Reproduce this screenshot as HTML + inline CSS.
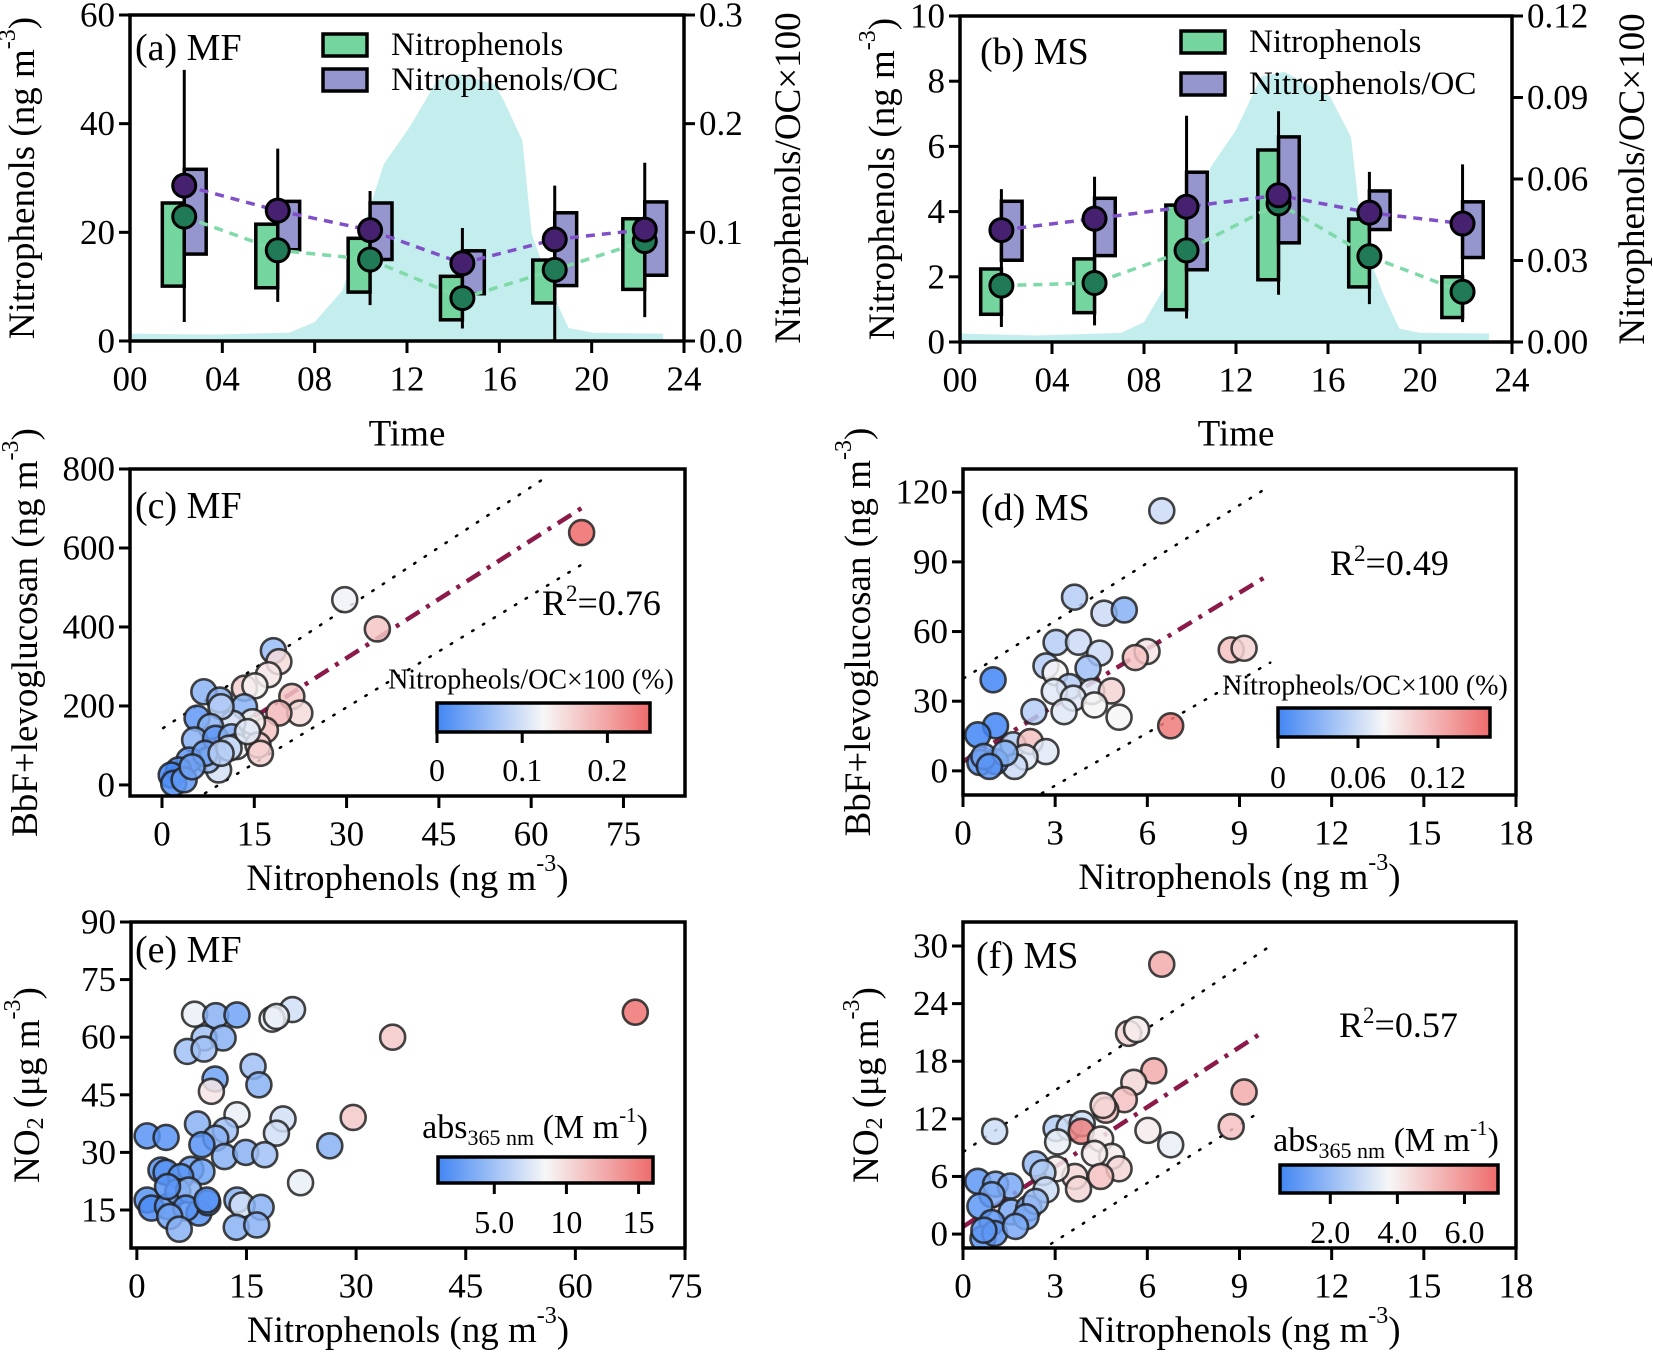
<!DOCTYPE html>
<html><head><meta charset="utf-8">
<style>
html,body{margin:0;padding:0;background:#fff;}
svg{display:block;font-family:"Liberation Serif","DejaVu Serif",serif;}
</style></head>
<body>
<svg id="fig" width="1653" height="1352" viewBox="0 0 1653 1352" xmlns="http://www.w3.org/2000/svg">
<defs>
<linearGradient id="gc" x1="0" x2="1" y1="0" y2="0"><stop offset="0" stop-color="#4286f4"/><stop offset="0.5" stop-color="#f7f7f7"/><stop offset="1" stop-color="#ee6b6b"/></linearGradient>
</defs>
</svg>
<script>
// ---------- Panel (a)/(b) data ----------
const hoursA = [2.35, 6.4, 10.4, 14.4, 18.4, 22.3];
const npBoxLowA = [10.1, 9.8, 9.0, 3.9, 7.0, 9.5];
const npBoxHighA = [25.4, 21.5, 18.9, 11.9, 14.9, 22.5];
const npMeanA = [22.9, 16.7, 15.0, 7.9, 13.1, 18.4];
const ratioBoxLowA = [0.080, 0.084, 0.075, 0.0435, 0.051, 0.0605];
const ratioBoxHighA = [0.158, 0.1285, 0.127, 0.083, 0.118, 0.128];
const ratioMeanA = [0.143, 0.120, 0.102, 0.0715, 0.0935, 0.1025];
const whiskLowA = [3.5, 7.2, 6.6, 2.3, 0, 4.4];
const whiskHighA = [49.9, 35.4, 27.6, 20.8, 28.6, 32.8];
const solarHoursA = [0, 3.5, 6.9, 8.0, 9.2, 10.3, 11.0, 12.1, 13.3, 14.2, 15.8, 16.2, 17.0, 17.4, 18.3, 19.0, 20.1, 23.1];
const solarValsA = [1.35, 1.17, 1.54, 3.5, 9.3, 23.4, 32.6, 39.3, 47.9, 49.1, 47.3, 44.2, 36.9, 19.8, 8.8, 2.4, 1.5, 1.35];

const hoursB = [1.8, 5.85, 9.85, 13.85, 17.8, 21.85];
const npBoxLowB = [0.85, 0.90, 0.99, 1.91, 1.69, 0.75];
const npBoxHighB = [2.24, 2.55, 4.2, 5.89, 3.77, 2.0];
const npMeanB = [1.73, 1.81, 2.81, 4.25, 2.63, 1.54];
const ratioBoxLowB = [0.0301, 0.0318, 0.0266, 0.0365, 0.0414, 0.0311];
const ratioBoxHighB = [0.0518, 0.0529, 0.0625, 0.0755, 0.0556, 0.0516];
const ratioMeanB = [0.0412, 0.0454, 0.0498, 0.054, 0.0476, 0.0436];
const whiskLowB = [0.46, 0.51, 0.72, 1.45, 1.16, 0.61];
const whiskHighB = [4.69, 5.07, 6.94, 7.08, 5.22, 5.45];
const solarHoursB = [0, 3.3, 7.0, 8.0, 9.0, 10.9, 12.0, 13.1, 14.1, 16.1, 17.0, 17.5, 18.4, 19.1, 20.0, 23.0];
const solarValsB = [0.26, 0.2, 0.28, 0.61, 1.79, 5.37, 6.5, 8.14, 8.29, 7.52, 6.29, 3.12, 1.48, 0.41, 0.28, 0.26];

// ---------- Panel (c) ----------
const cX = [68.2,29.7,35.0,18.1,19.0,17.3,13.4,15.1,6.8,9.4,13.4,21.1,22.4,19.0,16.8,14.7,11.5,9.6,5.7,7.9,5.3,8.7,11.3,12.1,15.6,16.0,9.2,7.4,4.4,7.0,2.7,1.5,1.9,3.6,4.9,10.9,9.6,13.9];
const cY = [639,469,395,340,312,279,245,251,236,215,198,224,182,182,139,160,156,198,169,148,114,118,122,97,101,80,38,63,63,80,38,25,4,13,46,93,80,135];
const cC = [0.25,0.12,0.17,0.06,0.15,0.14,0.16,0.13,0.05,0.05,0.05,0.17,0.15,0.18,0.17,0.13,0.10,0.08,0.02,0.05,0.05,0.02,0.05,0.12,0.16,0.16,0.10,0.06,0.02,0.03,0.01,0.0,0.01,0.02,0.03,0.09,0.08,0.11];
// ---------- Panel (d) ----------
const dX = [6.47,3.63,4.59,5.25,3.03,3.76,4.45,5.99,5.61,8.73,9.15,2.70,4.07,3.0,0.98,3.46,2.97,4.19,4.83,3.59,4.28,2.31,3.29,5.08,6.76,1.06,0.48,1.63,2.19,2.70,2.02,1.68,0.55,1.06,0.68,1.37,0.86];
const dY = [112,74.8,67.9,69.3,55.3,55.4,50.7,51.4,48.8,52.1,52.8,45.2,44.2,42.3,39.2,36.3,34.2,34.2,34.4,31.3,28.4,25.5,25.5,23.1,19.4,19.4,15.5,11.2,12.6,8.3,5.9,1.9,3.6,4.0,6.2,7.6,1.9];
const dC = [0.06,0.05,0.06,0.03,0.05,0.06,0.06,0.09,0.11,0.11,0.10,0.05,0.04,0.08,0.0,0.05,0.07,0.07,0.10,0.07,0.08,0.05,0.07,0.08,0.15,0.0,0.0,0.05,0.11,0.07,0.07,0.06,0.01,0.0,0.02,0.03,0.01];
// ---------- Panel (e) ----------
const eX = [68.2,35.0,29.6,21.3,18.5,19.1,7.9,10.8,13.7,9.2,11.8,6.9,9.2,15.9,16.7,10.7,10.2,13.7,20.0,19.1,8.3,12.1,10.8,26.4,1.4,4.0,8.9,12.0,14.9,17.5,22.4,3.3,4.0,7.4,8.9,6.0,1.4,2.0,4.2,5.6,7.1,4.2,8.5,9.7,6.7,4.5,5.8,13.7,14.4,17.0,13.6,16.4,9.6];
const eY = [66.5,60.0,39.1,67.2,64.7,65.4,66.0,65.6,65.8,59.8,59.8,56.3,56.9,52.4,47.6,49.1,45.9,39.8,38.7,35.0,37.4,35.7,33.7,31.7,34.3,33.9,32.0,28.9,30.0,29.4,22.1,25.4,24.8,25.6,25.0,23.7,17.6,15.5,15.9,19.8,20.2,21.1,14.2,16.9,15.5,13.3,10.0,17.6,16.3,15.7,10.5,11.1,17.6];
const eC = [15.5,11,11,7,8,8,8,4,3,5,4,5,5,5,4,3,9.5,8,7,7,4,5,4,4,2,2,2,4,4,5,8,2,2,3,3,2,2,1.5,2,3,4,2,2,2,2,3,4,4,7,4,4,4,2];
// ---------- Panel (f) ----------
const fX = [6.47,5.39,5.65,6.21,5.56,5.25,4.65,4.56,9.15,8.73,6.02,6.76,1.03,3.03,3.46,3.88,3.85,3.08,4.48,4.84,4.28,5.08,4.48,3.64,3.76,3.03,2.36,2.60,2.70,0.48,1.06,1.54,0.94,0.55,1.57,2.14,2.36,2.05,0.94,0.65,1.03,1.71,0.68];
const fY = [28.1,20.9,21.3,17.0,15.8,14.0,12.9,13.4,14.8,11.2,10.8,9.3,10.7,11.0,11.1,11.5,10.7,9.6,9.9,8.1,8.4,6.8,6.0,6.0,4.7,6.8,7.3,6.4,4.6,5.5,5.2,5.0,4.1,2.9,2.3,2.7,3.4,1.8,1.2,-0.45,0.07,0.8,0.4];
const fC = [5.5,4.5,4,5.5,4.5,5,5,4.5,5.5,5,4,3.5,3,2.5,3,3,6.5,3.5,4,4,4,4.5,5,4.5,4.5,4,2,2.5,3,1,1.5,1.5,1.5,1,1.5,1.5,2,1.5,1,1,1,1.5,1];

const NS = "http://www.w3.org/2000/svg";
const svg = document.getElementById('fig');
const TICKFS = 35, TITLEFS = 37;
function el(tag, attrs, parent){
  const e = document.createElementNS(NS, tag);
  for (const k in attrs) e.setAttribute(k, attrs[k]);
  (parent||svg).appendChild(e);
  return e;
}
function txt(s, x, y, size, anchor, parent){
  const t = el('text', {x:x, y:y, 'font-size':size, 'text-anchor':anchor||'middle', 'dominant-baseline':'central', fill:'#000'}, parent);
  t.textContent = s;
  return t;
}
function lin(d0,d1,r0,r1){ return v => r0 + (v-d0)/(d1-d0)*(r1-r0); }
function mix(a,b,t){ return a.map((v,i)=>Math.round(v+(b[i]-v)*t)); }
function cmap(v, lo, hi){
  const t = Math.max(0, Math.min(1, (v-lo)/(hi-lo)));
  const B=[66,134,244], W=[247,247,247], R=[238,107,107];
  const c = t<0.5 ? mix(B,W,t/0.5) : mix(W,R,(t-0.5)/0.5);
  return 'rgb('+c.join(',')+')';
}
function frame(L,T,R,Bm,name){
  const r = el('rect',{x:L,y:T,width:R-L,height:Bm-T,fill:'none',stroke:'#000','stroke-width':3.5});
  
  
}
function yTicks(vals, labels, sy, x, side, name){
  const g = el('g',{});
  
  
  vals.forEach((v,i)=>{
    const y = sy(v);
    const x2 = side==='left' ? x-11 : x+11;
    el('line',{x1:x,x2:x2,y1:y,y2:y,stroke:'#000','stroke-width':3},g);
    txt(labels[i], side==='left'? x-15 : x+15, y, TICKFS, side==='left'?'end':'start', g);
  });
}
function xTicks(vals, labels, sx, y, name, ly){
  const g = el('g',{});
  
  
  vals.forEach((v,i)=>{
    const x = sx(v);
    el('line',{x1:x,x2:x,y1:y,y2:y+12,stroke:'#000','stroke-width':3},g);
    txt(labels[i], x, ly, TICKFS, 'middle', g);
  });
}
function vTitle(parts, x, y, name){
  const t = el('text',{x:x,y:y,'font-size':TITLEFS,'text-anchor':'middle','dominant-baseline':'central',transform:'rotate(-90 '+x+' '+y+')'});
  
  
  parts.forEach(p=>{
    const ts = el('tspan',{},t);
    if(p.sup){ ts.setAttribute('dy',-14); ts.setAttribute('font-size',24); }
    if(p.sub){ ts.setAttribute('dy',9); ts.setAttribute('font-size',24); }
    if(p.back){ ts.setAttribute('dy',p.back); }
    ts.textContent = p.t;
  });
  return t;
}
function hTitle(x,y,name){
  const t = el('text',{x:x,y:y,'font-size':TITLEFS,'text-anchor':'middle','dominant-baseline':'central'});
  
  
  const a = el('tspan',{},t); a.textContent='Nitrophenols (ng m';
  const b = el('tspan',{dy:-14,'font-size':24},t); b.textContent='-3';
  const c = el('tspan',{dy:14},t); c.textContent=')';
}
const nitroTitle = [{t:'Nitrophenols (ng m'},{t:'-3',sup:true},{t:')',back:14}];

// ================= Box panels =================
function boxPanel(o){
  const sx = lin(0,24,o.L,o.R), sy = lin(0,o.ymax,o.B,o.T), sr = lin(0,o.rmax,o.B,o.T);
  let d = 'M'+sx(o.solH[0])+','+o.B;
  o.solH.forEach((h,i)=>{ d += ' L'+sx(h)+','+sy(o.solV[i]); });
  d += ' L'+sx(o.solH[o.solH.length-1])+','+o.B+' Z';
  const area = el('path',{d:d,fill:'#c4eeee'});
  
  
  const w = o.bw;
  o.hours.forEach((h,i)=>{
    const g = el('g',{});
    
    
    el('line',{x1:sx(h),x2:sx(h),y1:sy(o.wl[i]),y2:sy(o.wh[i]),stroke:'#000','stroke-width':3},g);
    const gb = el('rect',{x:sx(h-w),y:sy(o.nh[i]),width:sx(h)-sx(h-w),height:sy(o.nl[i])-sy(o.nh[i]),fill:'#74d69e',stroke:'#000','stroke-width':3.5},g);
    
    
    const pb = el('rect',{x:sx(h),y:sr(o.rh[i]),width:sx(h+w)-sx(h),height:sr(o.rl[i])-sr(o.rh[i]),fill:'#9696cf',stroke:'#000','stroke-width':3.5},g);
    
    
  });
  let gp='', pp='';
  o.hours.forEach((h,i)=>{ gp += (i?' L':'M')+sx(h)+','+sy(o.nm[i]); pp += (i?' L':'M')+sx(h)+','+sr(o.rm[i]); });
  const gl = el('path',{d:gp,fill:'none',stroke:'#7fd9a8','stroke-width':3.5,'stroke-dasharray':'9 7'});
  
  
  const pl = el('path',{d:pp,fill:'none',stroke:'#8050c8','stroke-width':3.5,'stroke-dasharray':'9 7'});
  
  
  o.hours.forEach((h,i)=>{
    const c1 = el('circle',{cx:sx(h),cy:sy(o.nm[i]),r:11.5,fill:'#1f7a55',stroke:'#000','stroke-width':3});
    
    
    const c2 = el('circle',{cx:sx(h),cy:sr(o.rm[i]),r:11.5,fill:'#45216f',stroke:'#000','stroke-width':3});
    
    
  });
  frame(o.L,o.T,o.R,o.B,o.p+'-plot-frame');
  yTicks(o.yt, o.yl, sy, o.L, 'left', o.p+'-left-y-ticks');
  yTicks(o.rt, o.rl2, sr, o.R, 'right', o.p+'-right-y-ticks');
  xTicks([0,4,8,12,16,20,24],['00','04','08','12','16','20','24'], sx, o.B, o.p+'-x-ticks', o.B+38);
  const tt = txt('Time', (o.L+o.R)/2, 434, TITLEFS);
  
  
  vTitle(nitroTitle, o.ytx, (o.T+o.B)/2, o.p+'-left-y-axis-title');
  vTitle([{t:'Nitrophenols/OC×100'}], o.rtx, (o.T+o.B)/2, o.p+'-right-y-axis-title');
  const lab = txt(o.label, o.labX, o.labY, 38, 'start');
  
  
  const lg = el('g',{});
  
  
  el('rect',{x:o.lgX,y:o.lgY1-11,width:44,height:22,fill:'#74d69e',stroke:'#000','stroke-width':3.5},lg);
  el('rect',{x:o.lgX,y:o.lgY2-11,width:44,height:22,fill:'#9696cf',stroke:'#000','stroke-width':3.5},lg);
  txt('Nitrophenols', o.lgX+68, o.lgY1, 33, 'start', lg);
  txt('Nitrophenols/OC', o.lgX+68, o.lgY2, 33, 'start', lg);
}
boxPanel({p:'panel-a',L:130,R:684,T:15,B:341,ymax:60,rmax:0.3,bw:0.95,
  hours:hoursA,nl:npBoxLowA,nh:npBoxHighA,nm:npMeanA,rl:ratioBoxLowA,rh:ratioBoxHighA,rm:ratioMeanA,wl:whiskLowA,wh:whiskHighA,
  solH:solarHoursA,solV:solarValsA,yt:[0,20,40,60],yl:['0','20','40','60'],rt:[0,0.1,0.2,0.3],rl2:['0.0','0.1','0.2','0.3'],
  ytx:22,rtx:788,label:'(a) MF',labX:135,labY:48,lgX:323,lgY1:45,lgY2:80});
boxPanel({p:'panel-b',L:960,R:1512,T:16,B:342,ymax:10,rmax:0.12,bw:0.9,
  hours:hoursB,nl:npBoxLowB,nh:npBoxHighB,nm:npMeanB,rl:ratioBoxLowB,rh:ratioBoxHighB,rm:ratioMeanB,wl:whiskLowB,wh:whiskHighB,
  solH:solarHoursB,solV:solarValsB,yt:[0,2,4,6,8,10],yl:['0','2','4','6','8','10'],rt:[0,0.03,0.06,0.09,0.12],rl2:['0.00','0.03','0.06','0.09','0.12'],
  ytx:882,rtx:1632,label:'(b) MS',labX:980,labY:52,lgX:1181,lgY1:42,lgY2:84});

// ================= Scatter panels =================
function scatterPanel(o){
  const sx = lin(o.x0,o.x1,o.L,o.R), sy = lin(o.y0,o.y1,o.B,o.T);
  const clip = el('clipPath',{id:o.p+'-clip'});
  el('rect',{x:o.L,y:o.T,width:o.R-o.L,height:o.B-o.T},clip);
  const pg = el('g',{'clip-path':'url(#'+o.p+'-clip)'});
  
  
  if(o.fit){
    const f = o.fit;
    const l1 = el('line',{x1:sx(f.up[0]),y1:sy(f.up[1]),x2:sx(f.up[2]),y2:sy(f.up[3]),stroke:'#000','stroke-width':2.5,'stroke-dasharray':'1.5 11','stroke-linecap':'round'},pg);
    
    
    const l2 = el('line',{x1:sx(f.lo[0]),y1:sy(f.lo[1]),x2:sx(f.lo[2]),y2:sy(f.lo[3]),stroke:'#000','stroke-width':2.5,'stroke-dasharray':'1.5 11','stroke-linecap':'round'},pg);
    
    
    const l3 = el('line',{x1:sx(f.m[0]),y1:sy(f.m[1]),x2:sx(f.m[2]),y2:sy(f.m[3]),stroke:'#8b1a4b','stroke-width':4.5,'stroke-dasharray':'16 8 4 8'},pg);
    
    
  }
  o.xs.forEach((v,i)=>{
    const c = el('circle',{cx:sx(v),cy:sy(o.ys[i]),r:o.r||12.5,fill:cmap(o.cs[i],o.c0,o.c1),'fill-opacity':0.85,stroke:'#222','stroke-opacity':0.85,'stroke-width':2.6},pg);
    
    
  });
  frame(o.L,o.T,o.R,o.B,o.p+'-plot-frame');
  yTicks(o.yt, o.yt.map(String), sy, o.L, 'left', o.p+'-y-ticks');
  xTicks(o.xt, o.xt.map(String), sx, o.B, o.p+'-x-ticks', o.B+38);
  hTitle((o.L+o.R)/2, o.B+82, o.p+'-x-axis-title');
  vTitle(o.ytitle, o.ytx, (o.T+o.B)/2, o.p+'-y-axis-title');
  const lab = txt(o.label, o.labX, o.labY, 38, 'start');
  
  
  if(o.r2){
    const t = el('text',{x:o.r2[0],y:o.r2[1],'font-size':36,'text-anchor':'start'});
    
    
    const a = el('tspan',{},t); a.textContent='R';
    const b = el('tspan',{dy:-14,'font-size':23},t); b.textContent='2';
    const c = el('tspan',{dy:14},t); c.textContent='='+o.r2[2];
  }
  const cb = o.cb;
  const g = el('g',{});
  
  
  el('rect',{x:cb.x,y:cb.y,width:cb.w,height:cb.h,fill:'url(#gc)',stroke:'#000','stroke-width':3.5},g);
  const cs = lin(o.c0,o.c1,cb.x,cb.x+cb.w);
  cb.ticks.forEach((v,i)=>{
    el('line',{x1:cs(v),x2:cs(v),y1:cb.y+cb.h,y2:cb.y+cb.h+11,stroke:'#000','stroke-width':3},g);
    txt(cb.labels[i], cs(v), cb.ly, 32, 'middle', g);
  });
  const ct = el('text',{x:cb.tx,y:cb.ty,'font-size':cb.tfs||28,'text-anchor':'middle','dominant-baseline':'central'},g);
  
  
  if(cb.abs){
    const a = el('tspan',{'font-size':34},ct); a.textContent='abs';
    const b = el('tspan',{dy:10,'font-size':22},ct); b.textContent='365 nm';
    const c = el('tspan',{dy:-10,'font-size':34},ct); c.textContent=' (M m';
    const d = el('tspan',{dy:-12,'font-size':21},ct); d.textContent='-1';
    const e = el('tspan',{dy:12,'font-size':34},ct); e.textContent=')';
  } else {
    ct.textContent = cb.title;
  }
}
const bbfTitle = [{t:'BbF+levoglucosan (ng m'},{t:'-3',sup:true},{t:')',back:14}];
const no2Title = [{t:'NO'},{t:'2',sub:true},{t:' (μg m',back:-9},{t:'-3',sup:true},{t:')',back:14}];

scatterPanel({p:'panel-c',L:130,R:685,T:469,B:796,x0:-5.2,x1:85,y0:-28,y1:800,xs:cX,ys:cY,cs:cC,c0:0,c1:0.25,
  xt:[0,15,30,45,60,75],yt:[0,200,400,600,800],ytitle:bbfTitle,ytx:25,label:'(c) MF',labX:135,labY:506,
  fit:{m:[0.2,25,69,709],up:[0.2,144,62.6,781],lo:[7,-21,69.5,570]},r2:[542,615,'0.76'],
  cb:{x:437,y:703,w:213,h:29,ticks:[0,0.1,0.2],labels:['0','0.1','0.2'],ly:770,tx:531,ty:680,title:'Nitropheols/OC×100 (%)',tfs:28}});
scatterPanel({p:'panel-d',L:963,R:1516,T:469,B:795,x0:0,x1:18,y0:-10.4,y1:130,xs:dX,ys:dY,cs:dC,c0:0,c1:0.159,
  xt:[0,3,6,9,12,15,18],yt:[0,30,60,90,120],ytitle:bbfTitle,ytx:858,label:'(d) MS',labX:981,labY:508,
  fit:{m:[0,4.0,10,84.8],up:[0.03,39.9,9.75,120.7],lo:[2.57,-9.6,10,46.6]},r2:[1330,575,'0.49'],
  cb:{x:1278,y:708,w:212,h:29,ticks:[0,0.06,0.12],labels:['0','0.06','0.12'],ly:777,tx:1365,ty:686,title:'Nitropheols/OC×100 (%)',tfs:28}});
scatterPanel({p:'panel-e',L:131,R:685,T:922,B:1248,x0:-0.8,x1:75,y0:5.1,y1:90,xs:eX,ys:eY,cs:eC,c0:1.1,c1:16,
  xt:[0,15,30,45,60,75],yt:[15,30,45,60,75,90],ytitle:no2Title,ytx:27,label:'(e) MF',labX:135,labY:950,
  cb:{x:438,y:1157,w:215,h:26,ticks:[5,10,15],labels:['5.0','10','15'],ly:1222,tx:535,ty:1127,abs:true}});
scatterPanel({p:'panel-f',L:963,R:1516,T:922,B:1248,x0:0,x1:18,y0:-1.45,y1:32.5,xs:fX,ys:fY,cs:fC,c0:0.5,c1:7.0,
  xt:[0,3,6,9,12,15,18],yt:[0,6,12,18,24,30],ytitle:no2Title,ytx:866,label:'(f) MS',labX:976,labY:956,
  fit:{m:[0,0.76,9.79,21.1],up:[0.03,8.6,10,30],lo:[2.87,-1.0,9.75,12.9]},r2:[1339,1037,'0.57'],
  cb:{x:1280,y:1165,w:218,h:28,ticks:[2,4,6],labels:['2.0','4.0','6.0'],ly:1232,tx:1386,ty:1140,abs:true}});
</script>
</body></html>
